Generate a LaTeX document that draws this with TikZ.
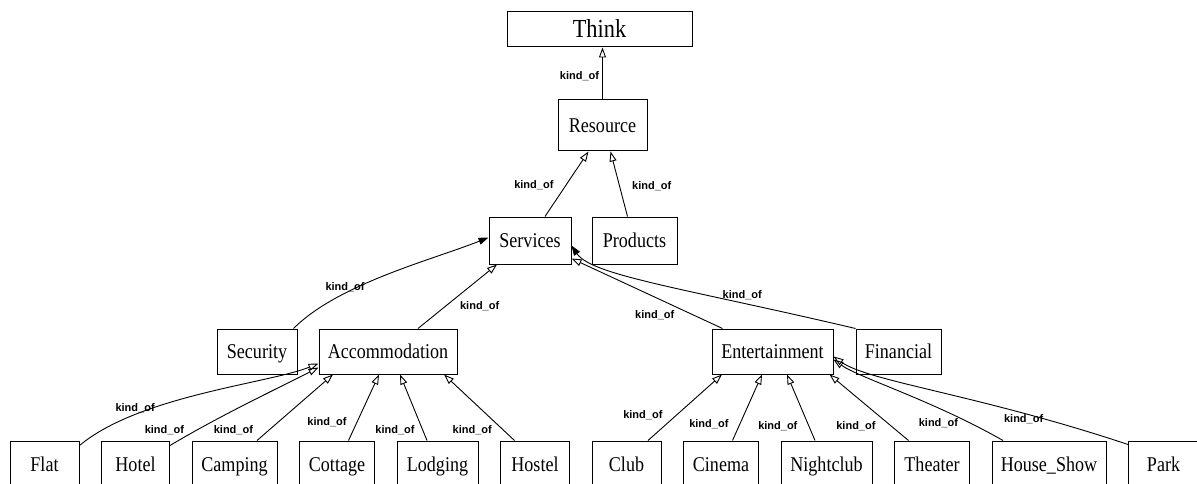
\documentclass[tikz,border=0pt]{standalone}
\usepackage{fontspec}
\newfontfamily\boxfont{Liberation Serif}[FakeStretch=0.86]
\newfontfamily\tagfont{Liberation Sans}
\usetikzlibrary{arrows.meta,positioning}

\begin{document}
\begin{tikzpicture}[x=1pt, y=-1pt,
    box/.style={rectangle, draw=black, line width=1pt, inner sep=2pt, minimum height=45pt, text height=16pt, text depth=2pt, font=\boxfont\fontsize{21}{24}\selectfont},
    leaf/.style={box, minimum height=46pt},
    lbl/.style={font=\tagfont\bfseries\fontsize{11}{12}\selectfont, inner sep=1pt},
    isa/.style={draw, line width=0.9pt, -{Triangle[open, length=10pt, width=7pt]}},
    isafull/.style={draw, line width=0.9pt, -{Triangle[length=10pt, width=7pt]}}
]

    \fill[white] (0,0) rectangle (1197,484);
    \useasboundingbox (0,0) rectangle (1197,484);

    % Top of the hierarchy
    \node (think) at (599.5,29.5) [box, minimum width=185pt, minimum height=35pt, text height=19pt, text depth=2pt, font=\boxfont\fontsize{26}{28}\selectfont] {Think};
    \node (resource) at (602.5,125.5) [box, minimum width=89pt, minimum height=51pt] {Resource};
    \node (services) at (530,240.5) [box, minimum width=82pt, minimum height=47pt] {Services};
    \node (products) [box, minimum width=85pt, minimum height=47pt, right=20pt of services] {Products};

    % Kinds of services
    \node (accommodation) at (388,351.5) [box, minimum width=138pt] {Accommodation};
    \node (security) [box, minimum width=80pt, left=21pt of accommodation] {Security};
    \node (entertainment) at (772.5,351.5) [box, minimum width=121pt] {Entertainment};
    \node (financial) [box, minimum width=85pt, right=22pt of entertainment] {Financial};

    % Leaves (bottom row)
    \node (flat) at (44.5,464) [leaf, minimum width=69pt] {Flat};
    \node (hotel) [leaf, minimum width=68pt, right=21.5pt of flat] {Hotel};
    \node (camping) [leaf, minimum width=85pt, right=21.5pt of hotel] {Camping};
    \node (cottage) [leaf, minimum width=75pt, right=21.5pt of camping] {Cottage};
    \node (lodging) [leaf, minimum width=81pt, right=21.5pt of cottage] {Lodging};
    \node (hostel) [leaf, minimum width=69pt, right=21.5pt of lodging] {Hostel};
    \node (club) [leaf, minimum width=69pt, right=21.5pt of hostel] {Club};
    \node (cinema) [leaf, minimum width=75pt, right=21.5pt of club] {Cinema};
    \node (nightclub) [leaf, minimum width=91pt, right=21.5pt of cinema] {Nightclub};
    \node (theater) [leaf, minimum width=75pt, right=21.5pt of nightclub] {Theater};
    \node (houseshow) [leaf, minimum width=114pt, right=21.5pt of theater] {House\_Show};
    \node (park) [leaf, minimum width=70pt, right=21.5pt of houseshow] {Park};

    % kind_of links, upper part
    \draw[isa] (resource.north) -- node[lbl, left=2pt, pos=0.45] {kind\_of} (resource.north |- think.south);
    \draw[isa] ([xshift=15pt]services.north) -- node[lbl, left=11pt, pos=0.48] {kind\_of} ([xshift=-14pt]resource.south);
    \draw[isa] ([xshift=-7pt]products.north) -- node[lbl, right=11pt, pos=0.46] {kind\_of} ([xshift=8pt]resource.south);

    \draw[isafull] ([xshift=-4pt]security.north east) .. controls +(45,-45) and +(-55,22) .. ([yshift=3pt]services.west) node[lbl, pos=0.3, above] {kind\_of};
    \draw[isa] ([xshift=30pt]accommodation.north) -- node[lbl, right=13pt, pos=0.35] {kind\_of} ([xshift=-33pt]services.south);
    \draw[isa] ([xshift=-50pt]entertainment.north) -- node[lbl, below left=2pt, pos=0.3] {kind\_of} ([yshift=-18pt]services.east);
    \draw[isafull] (financial.north west) .. controls +(-170,-40) and +(20,30) .. ([yshift=-5pt]services.east) node[lbl, pos=0.25, above=2pt] {kind\_of};

    % kind_of links into Accommodation
    \draw[isa] ([yshift=-5pt]flat.north east) .. controls +(60,-50) and +(-50,20) .. ([yshift=-12pt]accommodation.west) node[lbl, pos=0.25, above] {kind\_of};
    \draw[isa] ([yshift=-5pt]hotel.north east) .. controls +(50,-30) and +(-35,18) .. ([yshift=-16pt]accommodation.west) node[lbl, pos=0.1, above left] {kind\_of};
    \draw[isa] ([xshift=22.5pt]camping.north) -- node[lbl, left=14pt, pos=0.15] {kind\_of} ([xshift=-55pt]accommodation.south);
    \draw[isa] ([xshift=11.5pt]cottage.north) -- node[lbl, left=9pt, pos=0.28] {kind\_of} ([xshift=-9pt]accommodation.south);
    \draw[isa] ([xshift=-10.5pt]lodging.north) -- node[lbl, left=7pt, pos=0.15] {kind\_of} ([xshift=12pt]accommodation.south);
    \draw[isa] ([xshift=-20.5pt]hostel.north) -- node[lbl, left=10pt, pos=0.16] {kind\_of} ([xshift=56pt]accommodation.south);

    % kind_of links into Entertainment
    \draw[isa] ([xshift=21.5pt]club.north) -- node[lbl, left=13pt, pos=0.39] {kind\_of} ([xshift=-50.5pt]entertainment.south);
    \draw[isa] ([xshift=11.5pt]cinema.north) -- node[lbl, left=10pt, pos=0.25] {kind\_of} ([xshift=-10.5pt]entertainment.south);
    \draw[isa] ([xshift=-11.5pt]nightclub.north) -- node[lbl, left=10pt, pos=0.22] {kind\_of} ([xshift=14.5pt]entertainment.south);
    \draw[isa] ([xshift=-23.5pt]theater.north) -- node[lbl, left=15pt, pos=0.21] {kind\_of} ([xshift=-4pt]entertainment.south east);
    \draw[isa] ([xshift=-46pt]houseshow.north) .. controls +(-70,-40) and +(25,18) .. ([yshift=-8pt]entertainment.east) node[lbl, pos=0.15, left=12pt] {kind\_of};
    \draw[isa] ([yshift=-4pt]park.north west) .. controls +(-150,-50) and +(35,25) .. ([yshift=-5pt]entertainment.east) node[lbl, pos=0.25, below] {kind\_of};

\end{tikzpicture}
\end{document}
